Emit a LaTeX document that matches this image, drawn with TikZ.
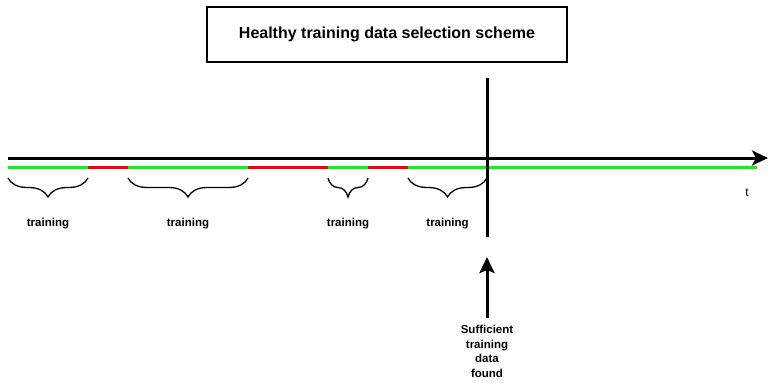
\documentclass[tikz,border=0pt]{standalone}
\usepackage{fontspec}
\setmainfont{Liberation Sans}
\usetikzlibrary{arrows.meta,positioning,calc,decorations.pathreplacing}
\definecolor{healthy}{HTML}{00FF00}
\definecolor{faulty}{HTML}{FF0000}

\begin{document}
\begin{tikzpicture}[x=1pt,y=-1pt,
  trainbrace/.style={decorate,decoration={brace,mirror,amplitude=19pt},line width=1.3pt},
  lbl/.style={font=\bfseries\fontsize{11.5}{14.7}\selectfont}]
  \useasboundingbox (0,0) rectangle (776,385);
  \node[draw,line width=1.3pt,minimum width=360pt,minimum height=55pt,
        font=\bfseries\fontsize{16}{19}\selectfont] (title) at (387,34.5) {Healthy training data selection scheme};
  % time axis
  \coordinate (t0) at (8,158);
  \coordinate (tend) at (768,158);
  \draw[line width=3pt,-{Stealth[length=16pt,width=15pt,inset=4pt]}] (t0) -- (tend);
  \node[font=\fontsize{12}{14}\selectfont] (t) at (747,193) {t};
  % state of the data
  \foreach \a/\b/\c in {8/88/healthy,88/128/faulty,128/248/healthy,248/328/faulty,
                        328/368/healthy,368/408/faulty,408/757/healthy} {
    \draw[\c,line width=3pt] (\a,167) -- (\b,167);
  }
  % training windows
  \foreach \i/\a/\b in {1/8/88,2/128/248,3/328/368,4/408/487} {
    \coordinate (s\i) at (\a,178);
    \coordinate (e\i) at (\b,178);
    \draw[trainbrace] (s\i) -- (e\i);
    \node[lbl] (train\i) at ($(s\i)!0.5!(e\i)+(0,45.5)$) {training};
  }
  % stop point
  \coordinate (stoptop) at (487,78);
  \coordinate (stopbot) at (487,237);
  \draw[line width=3pt] (stoptop) -- (stopbot);
  \node[lbl,align=center,anchor=north,inner sep=0pt] (found) at (487,325) {Sufficient\\training\\data\\found};
  \coordinate (tip) at (487,257);
  \draw[line width=3pt,shorten <=7pt,-{Stealth[length=16pt,width=15pt,inset=3pt]}] (found.north) -- (tip);
\end{tikzpicture}
\end{document}
